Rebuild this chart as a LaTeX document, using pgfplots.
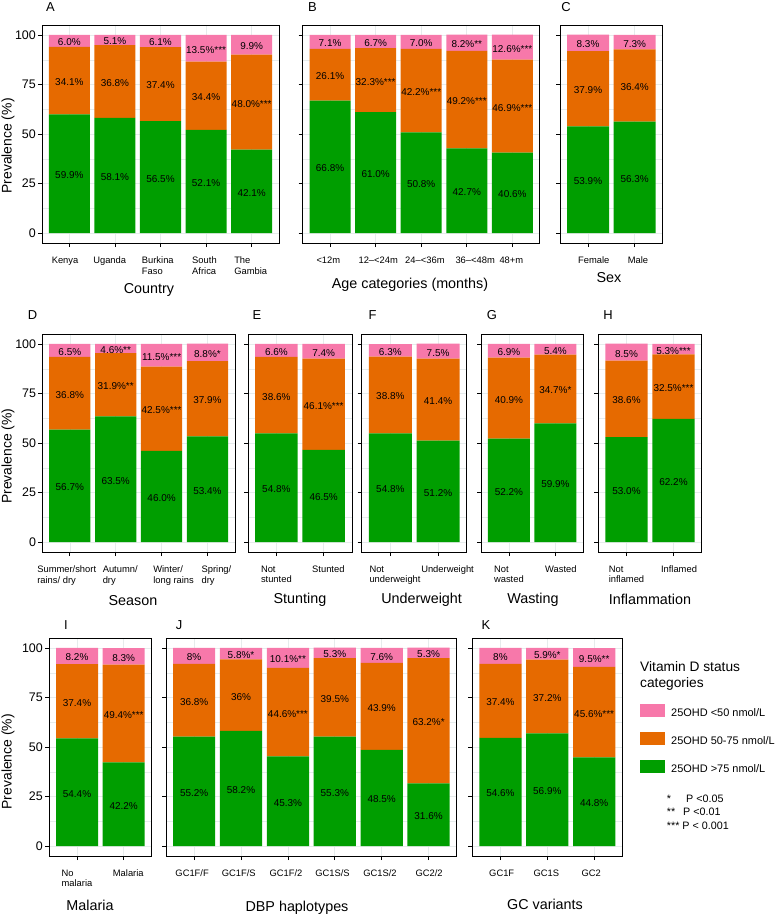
\documentclass[border=0pt]{standalone}
\usepackage{pgfplots}
\pgfplotsset{compat=1.18}
\usepackage{pgfplotstable}
\usepackage{fontspec}
\setmainfont{Liberation Sans}
\definecolor{cg}{RGB}{0,158,0}
\definecolor{co}{RGB}{230,106,0}
\definecolor{cp}{RGB}{247,120,170}
\definecolor{gridc}{RGB}{230,236,236}

\pgfplotsset{
  panel/.style={
    scale only axis, height=218bp,
    ymin=-5, ymax=105, enlargelimits=false,
    ybar stacked, bar width=0.9,
    ytick={0,25,50,75,100}, minor ytick={12.5,37.5,62.5,87.5},
    ymajorgrids, yminorgrids, xmajorgrids,
    major grid style={draw=gridc, line width=0.6bp},
    minor grid style={draw=gridc, line width=0.35bp},
    axis line style={line width=0.9bp, black},
    major tick style={line width=0.8bp, black},
    minor tick length=0pt, major tick length=4bp,
    tick align=outside, xtick pos=lower, ytick pos=left,
    /pgf/number format/assume math mode=true,
    yticklabel style={font=\fontsize{12.5}{14}\selectfont, anchor=east, inner sep=0pt, xshift=-2bp},
    xticklabel style={font=\fontsize{9.4}{10.6}\selectfont, align=left, anchor=north, inner sep=0pt, yshift=-9.5bp},
    xlabel style={font=\fontsize{14.4}{16}\selectfont, anchor=base, inner sep=0pt},
    ylabel style={font=\fontsize{14}{16}\selectfont, anchor=center, inner sep=0pt},
    yticklabels={},
  },
  firstcol/.style={yticklabels={0,25,50,75,100}},
  xoff/.style={xticklabel style={xshift={{#1}[\ticknum]*1bp}}},
  lab/.style={nodes near coords, point meta=explicit symbolic,
    every node near coord/.append style={font=\fontsize{10}{12}\selectfont, text=black,
      anchor=center, inner sep=0pt, yshift=-1.5bp}},
}
\newcommand\bars[1]{%
  \addplot[fill=cg, draw=none, lab] table[x=x, y=g, meta=lg]{#1};
  \addplot[fill=co, draw=none, lab] table[x=x, y=o, meta=lo]{#1};
  \addplot[fill=cp, draw=none, lab] table[x=x, y=p, meta=lp]{#1};
}

\pgfplotstableread{
x g o p lg lo lp
0 59.9 34.1 6.0 59.9\% 34.1\% 6.0\%
1 58.1 36.8 5.1 58.1\% 36.8\% 5.1\%
2 56.5 37.4 6.1 56.5\% 37.4\% 6.1\%
3 52.1 34.4 13.5 52.1\% 34.4\% 13.5\%***
4 42.1 48.0 9.9 42.1\% 48.0\%*** 9.9\%
}\tabA
\pgfplotstableread{
x g o p lg lo lp
0 66.8 26.1 7.1 66.8\% 26.1\% 7.1\%
1 61.0 32.3 6.7 61.0\% 32.3\%*** 6.7\%
2 50.8 42.2 7.0 50.8\% 42.2\%*** 7.0\%
3 42.7 49.2 8.2 42.7\% 49.2\%*** 8.2\%**
4 40.6 46.9 12.6 40.6\% 46.9\%*** 12.6\%***
}\tabB
\pgfplotstableread{
x g o p lg lo lp
0 53.9 37.9 8.3 53.9\% 37.9\% 8.3\%
1 56.3 36.4 7.3 56.3\% 36.4\% 7.3\%
}\tabC
\pgfplotstableread{
x g o p lg lo lp
0 56.7 36.8 6.5 56.7\% 36.8\% 6.5\%
1 63.5 31.9 4.6 63.5\% 31.9\%** 4.6\%**
2 46.0 42.5 11.5 46.0\% 42.5\%*** 11.5\%***
3 53.4 37.9 8.8 53.4\% 37.9\% 8.8\%*
}\tabD
\pgfplotstableread{
x g o p lg lo lp
0 54.8 38.6 6.6 54.8\% 38.6\% 6.6\%
1 46.5 46.1 7.4 46.5\% 46.1\%*** 7.4\%
}\tabE
\pgfplotstableread{
x g o p lg lo lp
0 54.8 38.8 6.3 54.8\% 38.8\% 6.3\%
1 51.2 41.4 7.5 51.2\% 41.4\% 7.5\%
}\tabF
\pgfplotstableread{
x g o p lg lo lp
0 52.2 40.9 6.9 52.2\% 40.9\% 6.9\%
1 59.9 34.7 5.4 59.9\% 34.7\%* 5.4\%
}\tabG
\pgfplotstableread{
x g o p lg lo lp
0 53.0 38.6 8.5 53.0\% 38.6\% 8.5\%
1 62.2 32.5 5.3 62.2\% 32.5\%*** 5.3\%***
}\tabH
\pgfplotstableread{
x g o p lg lo lp
0 54.4 37.4 8.2 54.4\% 37.4\% 8.2\%
1 42.2 49.4 8.3 42.2\% 49.4\%*** 8.3\%
}\tabI
\pgfplotstableread{
x g o p lg lo lp
0 55.2 36.8 8.0 55.2\% 36.8\% 8\%
1 58.2 36.0 5.8 58.2\% 36\% 5.8\%*
2 45.3 44.6 10.1 45.3\% 44.6\%*** 10.1\%**
3 55.3 39.5 5.3 55.3\% 39.5\% 5.3\%
4 48.5 43.9 7.6 48.5\% 43.9\% 7.6\%
5 31.6 63.2 5.3 31.6\% 63.2\%* 5.3\%
}\tabJ
\pgfplotstableread{
x g o p lg lo lp
0 54.6 37.4 8.0 54.6\% 37.4\% 8\%
1 56.9 37.2 5.9 56.9\% 37.2\% 5.9\%*
2 44.8 45.6 9.5 44.8\% 45.6\%*** 9.5\%**
}\tabK

\begin{document}
\begin{tikzpicture}
\useasboundingbox (0,0) rectangle (778bp,-914bp);
% ---------- Row 1 ----------
\begin{axis}[panel, firstcol, at={(42bp,-243bp)}, anchor=south west, width=237bp,
  xmin=-0.6, xmax=4.6, xtick={0,...,4},
  xticklabels={Kenya, Uganda, {Burkina\\Faso}, {South\\Africa}, {The\\Gambia}},
  xoff={-4.3,-5.2,-2.7,-1.6,-1},
  xlabel={Country}, xlabel style={at={(axis description cs:0.4515,-0.2294)}},
  ylabel={Prevalence (\%)}, ylabel style={at={(axis description cs:-0.1435,0.445)}}]
\bars{\tabA}
\end{axis}
\begin{axis}[panel, at={(302.7bp,-243bp)}, anchor=south west, width=237bp,
  xmin=-0.6, xmax=4.6, xtick={0,...,4},
  xticklabels={<12m, 12–<24m, 24–<36m, 36–<48m, 48+m},
  xoff={-1.7,2.6,3.7,8.4,-1},
  xlabel={Age categories (months)}, xlabel style={at={(axis description cs:0.4527,-0.2064)}}]
\bars{\tabB}
\end{axis}
\begin{axis}[panel, at={(560bp,-243bp)}, anchor=south west, width=102.7bp,
  xmin=-0.6, xmax=1.6, xtick={0,1},
  xticklabels={Female, Male},
  xoff={5.8,3.3},
  xlabel={Sex}, xlabel style={at={(axis description cs:0.477,-0.1789)}}]
\bars{\tabC}
\end{axis}
% ---------- Row 2 ----------
\begin{axis}[panel, firstcol, at={(42.3bp,-552bp)}, anchor=south west, width=192.7bp,
  xmin=-0.6, xmax=3.6, xtick={0,...,3},
  xticklabels={{Summer/short\\rains/ dry}, {Autumn/\\dry}, {Winter/\\long rains}, {Spring/\\dry}},
  xoff={-3.1,4.5,12,9},
  xlabel={Season}, xlabel style={at={(axis description cs:0.4707,-0.2431)}},
  ylabel={Prevalence (\%)}, ylabel style={at={(axis description cs:-0.178,0.440)}}]
\bars{\tabD}
\end{axis}
\begin{axis}[panel, at={(248bp,-552bp)}, anchor=south west, width=104bp,
  xmin=-0.6, xmax=1.6, xtick={0,1},
  xticklabels={{Not\\stunted}, Stunted},
  xoff={0,4.7},
  xlabel={Stunting}, xlabel style={at={(axis description cs:0.5,-0.234)}}]
\bars{\tabE}
\end{axis}
\begin{axis}[panel, at={(361.7bp,-552bp)}, anchor=south west, width=105bp,
  xmin=-0.6, xmax=1.6, xtick={0,1},
  xticklabels={{Not\\underweight}, Underweight},
  xoff={4.7,9.5},
  xlabel={Underweight}, xlabel style={at={(axis description cs:0.571,-0.2385)}}]
\bars{\tabF}
\end{axis}
\begin{axis}[panel, at={(481bp,-552bp)}, anchor=south west, width=102.3bp,
  xmin=-0.6, xmax=1.6, xtick={0,1},
  xticklabels={{Not\\wasted}, Wasted},
  xoff={0,5.5},
  xlabel={Wasting}, xlabel style={at={(axis description cs:0.508,-0.2385)}}]
\bars{\tabG}
\end{axis}
\begin{axis}[panel, at={(598.3bp,-552bp)}, anchor=south west, width=103.4bp,
  xmin=-0.6, xmax=1.6, xtick={0,1},
  xticklabels={{Not\\inflamed}, Inflamed},
  xoff={0,5.5},
  xlabel={Inflammation}, xlabel style={at={(axis description cs:0.5,-0.2385)}}]
\bars{\tabH}
\end{axis}
% ---------- Row 3 ----------
\begin{axis}[panel, firstcol, at={(49bp,-856bp)}, anchor=south west, width=102.7bp,
  xmin=-0.6, xmax=1.6, xtick={0,1},
  xticklabels={{No\\malaria}, Malaria},
  xoff={0,4.6},
  xlabel={Malaria}, xlabel style={at={(axis description cs:0.399,-0.2477)}},
  ylabel={Prevalence (\%)}, ylabel style={at={(axis description cs:-0.399,0.4326)}}]
\bars{\tabI}
\end{axis}
\begin{axis}[panel, at={(166bp,-856bp)}, anchor=south west, width=290.7bp,
  xmin=-0.6, xmax=5.6, xtick={0,...,5},
  xticklabels={GC1F/F, GC1F/S, GC1F/2, GC1S/S, GC1S/2, GC2/2},
  xoff={-2,-2.2,-1.9,-2.3,-1.7,0.6},
  xlabel={DBP haplotypes}, xlabel style={at={(axis description cs:0.4506,-0.2523)}}]
\bars{\tabJ}
\end{axis}
\begin{axis}[panel, at={(472.3bp,-856bp)}, anchor=south west, width=150bp,
  xmin=-0.6, xmax=2.6, xtick={0,1,2},
  xticklabels={GC1F, GC1S, GC2},
  xoff={1.3,-1,-3},
  xlabel={GC variants}, xlabel style={at={(axis description cs:0.4847,-0.2431)}},
  reverse legend, legend cell align=left,
  legend style={at={(axis description cs:1.118,0.697)}, anchor=north west, draw=none, fill=none,
    inner sep=0pt, row sep=14bp, font=\fontsize{11}{13}\selectfont, nodes={inner sep=0pt},
    /tikz/every odd column/.append style={column sep=6bp}}]
\addplot[fill=cg, draw=none, lab, legend image code/.code={\fill[cg] (0bp,-3.7bp) rectangle (25bp,9.3bp);}] table[x=x, y=g, meta=lg]{\tabK};
\addlegendentry{25OHD >75 nmol/L}
\addplot[fill=co, draw=none, lab, legend image code/.code={\fill[co] (0bp,-3.7bp) rectangle (25bp,9.3bp);}] table[x=x, y=o, meta=lo]{\tabK};
\addlegendentry{25OHD 50-75 nmol/L}
\addplot[fill=cp, draw=none, lab, legend image code/.code={\fill[cp] (0bp,-3.7bp) rectangle (25bp,9.3bp);}] table[x=x, y=p, meta=lp]{\tabK};
\addlegendentry{25OHD <50 nmol/L}
\end{axis}
% ---------- panel letters ----------
\begin{scope}[every node/.style={font=\fontsize{13}{15}\selectfont, anchor=base, inner sep=0pt}]
\node at (50.5bp,-11.7bp) {A};
\node at (312.5bp,-11.7bp) {B};
\node at (566bp,-11.7bp) {C};
\node at (32.5bp,-319bp) {D};
\node at (257bp,-319bp) {E};
\node at (372.5bp,-319bp) {F};
\node at (492bp,-319bp) {G};
\node at (608bp,-319bp) {H};
\node at (66bp,-629bp) {I};
\node at (179bp,-629bp) {J};
\node at (486bp,-629bp) {K};
\end{scope}
% ---------- legend title and notes ----------
\node[anchor=north west, inner sep=0pt, align=left, font=\fontsize{13.8}{15.5}\selectfont] at (640bp,-661.7bp) {Vitamin D status\\categories};
\begin{scope}[every node/.style={font=\fontsize{10.8}{13}\selectfont, anchor=base west, inner sep=0pt}]
\node at (666.7bp,-802.7bp) {*};
\node at (686bp,-802.7bp) {P <0.05};
\node at (666.7bp,-815.7bp) {**};
\node at (683bp,-815.7bp) {P <0.01};
\node at (666.7bp,-829bp) {*** P < 0.001};
\end{scope}
\end{tikzpicture}
\end{document}
